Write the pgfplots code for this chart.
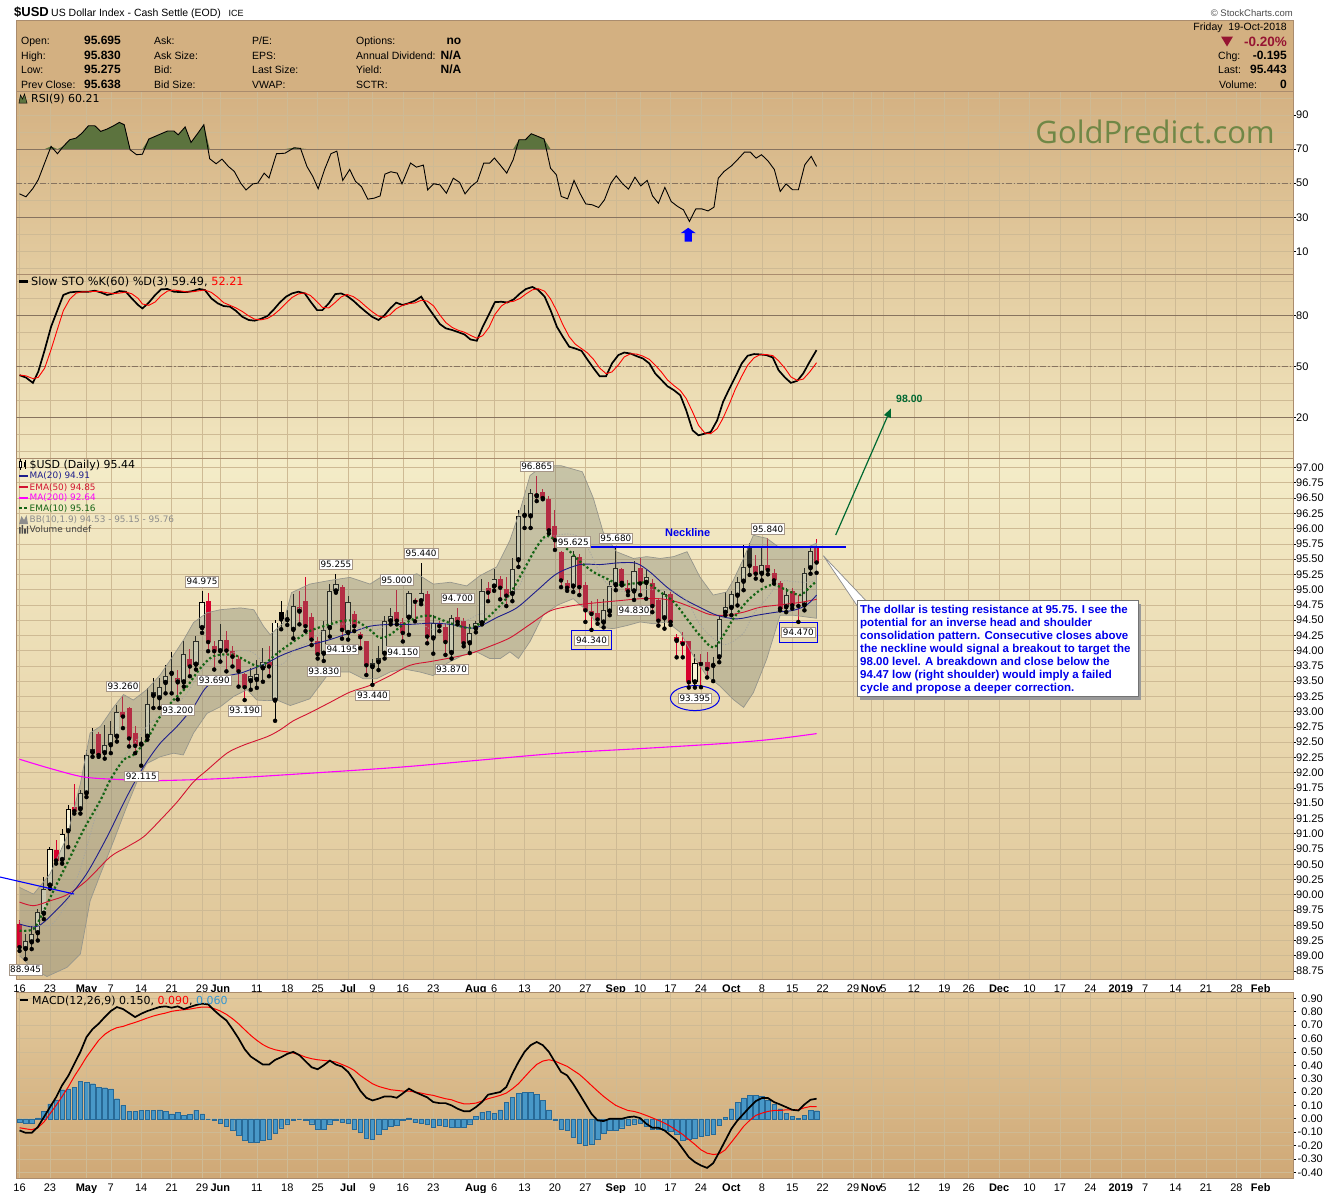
\documentclass[border=0pt]{standalone}
\usepackage{fontspec}
\setmainfont{Liberation Sans}
\newfontfamily\dv{DejaVu Sans}
\newfontfamily\osans{Open Sans}
\usepackage{pgfplots}
\pgfplotsset{compat=1.18}
\usepackage{pgfplotstable}
\usetikzlibrary{arrows.meta,shapes.geometric,fit}
\newcommand\fs[1]{\fontsize{#1}{#1}\selectfont}

\definecolor{hdrbg}{RGB}{211,176,129}
\definecolor{rsitop}{RGB}{212,177,130}
\definecolor{rsibot}{RGB}{227,204,160}
\definecolor{stotop}{RGB}{227,204,160}
\definecolor{stobot}{RGB}{241,230,192}
\definecolor{maintop}{RGB}{244,236,200}
\definecolor{mainmid}{RGB}{249,244,212}
\definecolor{mainbot}{RGB}{222,196,150}
\definecolor{macdtop}{RGB}{226,201,156}
\definecolor{macdbot}{RGB}{207,168,118}
\definecolor{pborder}{RGB}{170,140,110}
\definecolor{gridc}{RGB}{206,186,148}
\definecolor{refline}{RGB}{135,115,95}
\definecolor{rsigreen}{RGB}{92,115,62}
\definecolor{candred}{RGB}{215,0,45}
\definecolor{hollowin}{RGB}{248,243,214}
\definecolor{bandc}{RGB}{120,125,110}
\definecolor{bandedge}{RGB}{150,150,140}
\definecolor{ma20c}{RGB}{30,30,140}
\definecolor{ema50c}{RGB}{210,20,50}
\definecolor{ma200c}{RGB}{255,0,255}
\definecolor{ema10c}{RGB}{20,100,20}
\definecolor{bbmid}{RGB}{165,165,160}
\definecolor{histc}{RGB}{72,152,200}
\definecolor{histe}{RGB}{40,105,150}
\definecolor{maroonc}{RGB}{150,20,50}
\definecolor{gpgreen}{RGB}{112,135,70}
\definecolor{annblue}{RGB}{0,0,235}
\definecolor{arrgreen}{RGB}{0,105,50}
\definecolor{lblgray}{RGB}{165,150,135}
\definecolor{macdblue}{RGB}{50,150,210}

% ---------------- data ----------------
\pgfplotstableread{
px v
33 43.7
45 42
58 46.9
68 52
80 61.8
92 71.6
104 67.3
115 71.6
127 75.5
139 76.5
150 79.4
162 83.7
174 83.7
185 80.4
197 81.8
209 83.7
220 85.7
229 84.3
240 69.6
252 66.7
263 67
275 75.9
287 77.5
298 79
310 80.6
322 80.6
330 78.4
343 83
354 73.9
367 79.4
378 84.3
389 64.3
401 61.4
412 64.1
424 59.8
435 56.9
447 50
457 46
470 49.6
479 50
491 55.9
500 53
514 67.3
522 67.4
530 67.6
547 70.8
559 70.4
571 59.8
582 53.9
592 46.7
604 58
616 67.3
627 68.8
638 51.6
651 58
662 51
673 48
685 40.6
697 41.2
708 42.5
717 55.3
728 56.7
740 55.9
749 49.6
765 61.8
776 59.4
789 60.6
797 46
808 49.6
820 49
832 44.1
845 52.9
857 50.4
867 43.7
878 48
890 51
902 61.8
913 61.8
922 64.7
934 60.2
945 55.9
957 63.7
968 75.5
980 75.5
991 79
1003 77.5
1015 75.9
1027 58.8
1038 54.9
1047 42.2
1059 40.8
1071 51.6
1082 44.1
1093 37.8
1105 37.3
1117 35.7
1128 40.2
1140 50
1150 54.3
1162 49.6
1173 46.5
1185 53.5
1196 48.4
1208 51.6
1218 42.5
1229 38.2
1241 47.5
1253 39.2
1265 36.3
1276 34.3
1287 27.5
1299 34.9
1310 34.9
1322 33.7
1333 35.9
1341 52.9
1352 56.9
1366 60.2
1378 64.1
1390 68.2
1401 68.2
1412 64.7
1422 66.7
1434 63.1
1446 58
1457 45.1
1468 49.6
1480 46.1
1491 46.1
1503 60.8
1515 65.7
1525 59.8
}\rsidata

\pgfplotstableread{
px k d
33 44.9 45.0
45 43.5 44.5
58 40.4 42.9
68 46.9 43.6
80 59.6 49.0
92 73.3 59.9
104 83.1 72.0
115 92 82.8
127 93.5 89.5
139 93.9 93.1
150 93.9 93.8
162 93.9 93.9
174 94.5 94.1
185 93.5 94.0
197 92 93.3
209 92.9 92.8
220 94.3 93.1
232 93.9 93.7
243 90 92.7
255 86.1 90.0
263 84.1 86.7
275 87.5 85.9
287 92 87.9
298 95.3 91.6
310 95.5 94.3
322 93.9 94.9
334 93.7 94.4
346 93.7 93.8
357 94.3 93.9
370 95.5 94.5
380 94.9 94.9
392 90 93.5
404 87.1 90.7
415 85.5 87.5
427 85.1 85.9
438 82.7 84.4
450 79.2 82.3
462 77.3 79.7
473 76.9 77.8
485 78 77.4
497 79.6 78.2
508 83.1 80.2
520 87.5 83.4
532 91 87.2
543 92.9 90.5
555 93.9 92.6
567 92.9 93.2
578 88 91.6
590 83.1 88.0
600 83.1 84.7
612 87.1 84.4
624 92.5 87.6
635 92.9 90.8
646 91.4 92.3
658 88.6 91.0
670 85.1 88.4
681 82.2 85.3
693 79.2 82.2
705 77.3 79.6
716 80 78.8
727 84.1 80.5
738 87.5 83.9
750 86.1 85.9
761 87.1 86.9
773 88.6 87.3
785 91 88.9
796 85.5 88.4
808 80.2 85.6
820 74.9 80.2
831 72.4 75.8
843 71.4 72.9
854 70.2 71.3
866 68.8 70.1
877 65.9 68.3
889 65.1 66.6
900 73.3 68.1
912 80.8 73.1
923 87.8 80.6
935 88 85.5
946 87.6 87.8
958 89.4 88.3
970 92.9 90.0
981 95.5 92.6
993 96.7 95.0
1004 94.9 95.7
1016 91 94.2
1027 83.1 89.7
1039 73.3 82.5
1050 67.5 74.6
1062 61.6 67.5
1073 60.6 63.2
1085 59.2 60.5
1096 54.1 58.0
1108 48.8 54.0
1119 44.3 49.1
1131 44.3 45.8
1142 51.8 46.8
1154 56.7 50.9
1165 58.2 55.6
1177 57.6 57.5
1188 56.1 57.3
1200 54.7 56.1
1212 51.8 54.2
1223 45.9 50.8
1235 42 46.6
1246 38.4 42.1
1258 36.1 38.8
1270 33.1 35.9
1281 24.3 31.2
1293 12.5 23.3
1304 9.6 15.5
1316 10.6 10.9
1327 11.6 10.6
1339 18.4 13.5
1350 29.2 19.7
1362 37.1 28.2
1373 43.9 36.7
1385 51.8 44.3
1396 56.3 50.7
1408 57.3 55.1
1419 57.1 56.9
1431 56.7 57.0
1443 55.3 56.4
1454 47.8 53.3
1466 43.5 48.9
1477 40.4 43.9
1489 41.6 41.8
1500 45.9 42.6
1512 52.7 46.7
1525 59.6 52.2
}\stodata

% candles: hollow black
\pgfplotstableread{
i o h l c
1 89.11 89.35 88.945 89.24
2 89.22 89.49 89.11 89.36
3 89.37 89.77 89.25 89.71
4 89.69 90.29 89.60 90.10
5 90.15 90.78 90.10 90.75
7 90.57 91.07 90.51 91.00
8 91.04 91.47 90.78 91.41
10 91.40 91.71 91.33 91.67
11 91.66 92.37 91.60 92.29
12 92.33 92.73 92.26 92.38
14 92.32 92.78 92.23 92.45
15 92.45 92.84 92.32 92.64
16 92.59 93.11 92.51 93.00
20 92.46 92.59 92.115 92.47
21 92.59 93.39 92.54 93.12
22 93.26 93.55 93.06 93.32
23 93.22 93.55 93.06 93.40
24 93.47 93.76 93.30 93.58
25 93.62 93.98 93.30 93.63
27 93.48 94.15 93.41 93.94
29 93.77 94.24 93.69 94.15
30 94.37 94.975 94.29 94.80
33 93.99 94.44 93.82 94.18
38 93.50 93.71 93.36 93.58
39 93.52 93.85 93.39 93.61
40 93.71 94.04 93.49 93.82
42 93.18 94.50 92.85 94.46
44 94.50 94.66 94.42 94.52
45 94.34 94.93 94.20 94.73
50 93.95 94.48 93.83 94.34
51 94.37 95.09 94.23 94.98
52 94.97 95.255 94.95 95.09
54 94.29 94.90 94.18 94.79
58 93.73 93.87 93.44 93.80
59 93.81 94.07 93.68 93.88
60 93.95 94.57 93.87 94.48
61 94.48 94.70 94.43 94.56
64 94.54 94.98 94.26 94.95
66 94.81 95.44 94.76 94.95
68 94.20 94.59 93.95 94.45
71 93.96 94.59 93.87 94.54
74 94.12 94.43 93.96 94.29
75 94.36 94.48 94.30 94.45
76 94.45 95.17 94.43 94.98
78 95.05 95.34 94.98 95.17
81 94.93 95.51 94.81 95.34
82 95.48 96.31 95.37 96.20
83 96.21 96.39 96.01 96.23
84 96.20 96.64 96.01 96.58
91 95.05 95.625 94.96 95.55
96 94.46 94.85 94.38 94.66
97 94.64 95.14 94.58 95.06
98 95.07 95.68 94.99 95.36
101 94.97 95.47 94.83 95.31
103 95.11 95.32 94.85 95.21
106 94.53 94.97 94.36 94.92
111 93.48 93.94 93.395 93.80
114 93.75 93.89 93.50 93.76
115 93.89 94.58 93.81 94.52
116 94.62 94.96 94.58 94.71
117 94.70 94.97 94.58 94.92
118 94.90 95.21 94.74 95.13
119 95.13 95.73 94.99 95.37
122 95.26 95.68 95.15 95.41
126 94.71 95.03 94.63 94.91
129 94.74 95.35 94.66 95.27
130 95.35 95.70 95.26 95.638
}\hbdata

% hollow red
\pgfplotstableread{
i o h l c
26 93.48 93.69 93.20 93.55
46 94.64 94.98 94.43 94.71
85 96.53 96.865 96.45 96.56
108 94.16 94.27 93.89 94.22
}\hrdata

% filled black
\pgfplotstableread{
i o h l c
43 94.63 94.81 94.35 94.51
120 95.68 95.76 95.24 95.39
}\fbdata

% filled red
\pgfplotstableread{
i o h l c
0 89.52 89.58 89.08 89.14
6 90.74 90.90 90.51 90.56
9 91.43 91.82 91.33 91.37
13 92.63 92.67 92.26 92.29
17 92.99 93.26 92.73 92.92
18 93.06 93.08 92.43 92.56
19 92.65 92.76 92.32 92.44
28 93.87 94.02 93.58 93.74
31 94.81 94.95 93.99 94.14
32 94.07 94.15 93.69 93.99
34 94.18 94.32 93.66 94.00
35 94.00 94.07 93.74 93.90
36 93.86 93.91 93.41 93.66
37 93.61 93.63 93.19 93.40
41 93.82 94.07 93.58 93.74
47 94.81 95.21 94.32 94.40
48 94.55 94.62 94.09 94.18
49 94.16 94.23 93.87 93.94
53 95.04 95.07 94.195 94.34
55 94.60 94.65 94.32 94.40
56 94.27 94.31 94.04 94.22
57 94.15 94.15 93.60 93.76
62 94.64 95.00 94.43 94.49
63 94.47 94.54 94.15 94.29
65 94.83 94.87 94.48 94.80
67 94.92 94.98 94.12 94.23
69 94.45 94.48 94.32 94.40
70 94.38 94.43 93.93 94.14
72 94.55 94.70 94.43 94.47
73 94.48 94.54 94.07 94.12
77 95.02 95.12 94.81 94.95
79 95.17 95.23 94.84 95.03
80 95.01 95.20 94.73 94.90
86 96.60 96.65 96.48 96.50
87 96.49 96.53 95.92 95.97
88 96.05 96.31 95.65 95.81
89 95.62 95.64 95.04 95.15
90 95.10 95.15 94.98 95.03
92 95.54 95.59 94.91 95.04
93 95.07 95.13 94.47 94.66
94 94.65 94.82 94.34 94.60
95 94.62 94.85 94.44 94.51
99 95.33 95.36 95.07 95.11
100 95.03 95.15 94.91 94.97
102 95.36 95.51 94.91 95.10
104 95.10 95.17 94.63 94.73
105 94.83 94.86 94.41 94.49
107 94.92 94.96 94.42 94.47
109 94.15 94.30 93.89 94.11
110 94.15 94.16 93.395 93.48
112 93.82 93.94 93.40 93.78
113 93.82 93.97 93.56 93.70
121 95.39 95.57 95.18 95.26
123 95.41 95.84 95.25 95.32
124 95.27 95.33 95.10 95.15
125 95.10 95.14 94.66 94.69
127 94.98 95.02 94.69 94.74
128 94.75 94.91 94.47 94.73
131 95.695 95.83 95.275 95.443
}\frdata

% Bollinger band outline: upper band left to right, then lower band right to left
\pgfplotstableread{
x y
0 90.12
2.3 90.01
5.0 90.34
7.8 90.95
10.0 91.82
11.6 92.65
13.3 92.76
15.5 93.08
17.1 93.28
18.7 93.19
20.9 93.36
23.1 93.60
24.8 93.85
27.0 94.18
28.6 94.46
30.8 94.62
33.0 94.67
36.3 94.70
38.5 94.67
40.1 94.40
41.2 94.26
43.4 94.46
44.7 94.95
47.7 95.09
51.0 95.15
54.3 95.20
57.6 95.09
59.8 95.23
62.5 95.17
65.3 95.26
68.0 95.09
70.8 95.12
73.5 95.06
75.7 95.23
78.4 95.37
80.6 95.81
82.3 96.31
83.9 96.87
86.1 97.03
89.0 97.03
92.5 96.93
94.3 96.50
95.9 95.95
98.1 95.62
100.9 95.51
103.1 95.54
105.3 95.51
107.5 95.54
109.7 95.62
111.8 95.21
114.0 94.91
116.2 94.96
117.3 95.15
119.0 95.51
120.6 95.89
122.8 95.84
125.0 95.68
127.2 95.68
129.4 95.69
131.0 95.76
131.0 94.53
129.4 94.55
127.2 94.58
125.0 94.58
122.8 93.86
120.6 93.31
119.0 93.07
117.3 93.20
115.1 93.42
112.9 93.59
110.7 93.92
108.6 94.30
106.4 94.47
104.2 94.44
102.0 94.47
99.8 94.41
97.6 94.36
95.4 94.38
93.2 94.66
91.0 94.85
88.5 94.75
86.1 94.59
83.9 94.15
82.0 93.87
80.6 93.98
79.0 93.87
77.3 93.87
75.1 93.98
73.0 93.93
70.2 93.79
68.0 93.59
65.8 93.65
63.1 93.70
60.9 93.65
58.7 93.54
56.5 93.54
54.3 93.65
51.0 93.65
47.7 93.21
44.5 93.10
42.3 93.19
40.7 93.18
39.0 93.19
37.4 93.36
35.2 93.25
33.0 93.08
30.8 92.97
28.6 92.65
26.9 92.29
25.3 92.32
23.1 92.26
20.9 92.15
19.3 91.85
17.6 91.44
15.5 90.89
13.3 90.34
11.6 89.90
10.0 89.03
7.8 88.81
4.5 88.66
2.0 88.80
0 89.00
}\bbpoly

\pgfplotstableread{
x y
0 89.56
5 89.50
7.8 89.88
10 90.43
13.3 91.55
15.5 91.99
17.6 92.30
20.9 92.76
23.1 92.93
27 93.24
30.8 93.80
33 93.88
36.3 94.00
38.5 93.96
40.7 93.76
43.4 93.79
45 94.00
47.7 94.15
51 94.40
54.3 94.43
57.6 94.32
60.9 94.43
63.1 94.45
65.8 94.45
68 94.34
70.8 94.46
73.5 94.50
75.7 94.60
78.4 94.62
80.6 94.90
82.3 95.09
83.9 95.51
86.1 95.81
88.8 95.90
91 95.90
92.7 95.80
94.3 95.50
95.9 95.17
98.1 94.99
100.9 94.97
103.1 95.00
105.3 94.99
107.5 94.97
109.7 94.81
111.8 94.43
114 94.20
116.2 94.10
119 94.29
120.6 94.60
122.8 94.85
125 95.13
127.2 95.13
129.4 95.12
131 95.15
}\bbmiddle

\pgfplotstableread{
x y
0 89.52
2.3 89.47
4.0 89.55
7.8 89.93
11.0 90.34
14.4 90.95
17.6 91.60
20.4 92.10
23.1 92.48
25.9 92.76
28.6 93.08
30.8 93.41
34.1 93.58
36.3 93.63
38.5 93.71
40.7 93.80
42.8 93.91
44.5 93.98
47.7 94.09
51.0 94.18
54.3 94.29
57.6 94.40
60.9 94.43
64.2 94.43
67.5 94.45
70.8 94.43
74.0 94.37
75.7 94.40
78.4 94.54
81.7 94.70
85.0 94.98
88.3 95.26
92.1 95.41
95.4 95.41
98.7 95.44
101.4 95.43
103.6 95.29
106.4 95.04
109.1 94.85
111.8 94.71
114.6 94.58
117.9 94.52
121.2 94.58
124.4 94.63
127.2 94.66
129.4 94.75
131.0 94.91
}\madata

\pgfplotstableread{
x y
0 89.88
2.3 89.82
5.0 89.90
7.8 90.00
11.0 90.23
14.9 90.62
17.6 90.78
20.4 90.95
23.1 91.22
25.9 91.52
28.6 91.85
30.8 92.04
34.1 92.32
36.8 92.45
40.7 92.59
42.8 92.70
45.0 92.85
47.7 92.98
51.0 93.15
54.3 93.32
57.6 93.43
60.9 93.59
64.2 93.76
67.5 93.82
70.8 93.88
74.0 93.95
77.3 94.07
80.6 94.21
83.9 94.43
87.2 94.65
90.0 94.72
92.5 94.76
95.4 94.79
98.7 94.82
102.0 94.85
105.3 94.85
108.0 94.80
110.7 94.70
113.5 94.59
116.2 94.58
119.0 94.63
121.7 94.71
125.0 94.75
128.3 94.79
131.0 94.84
}\emafifty

\pgfplotstableread{
x y
0 92.22
5 92.07
10.5 91.93
16 91.89
21.5 91.87
27 91.88
34.6 91.91
46 91.98
62.5 92.09
75 92.20
88.8 92.32
103 92.40
116 92.48
124 92.55
131 92.64
}\matwohundred

\pgfplotstableread{
x y
0 89.41
2.3 89.44
4.0 89.74
5.6 90.07
7.8 90.51
10.5 91.06
13.3 91.55
14.9 91.88
17.1 92.21
18.7 92.29
20.9 92.54
23.1 92.92
25.3 93.19
27.5 93.41
29.7 93.71
31.9 93.91
35.2 93.93
37.4 93.82
39.6 93.74
41.8 93.91
43.9 94.07
47.7 94.32
51.0 94.43
53.2 94.49
55.4 94.48
57.6 94.34
59.2 94.21
60.9 94.26
63.1 94.43
65.3 94.54
67.5 94.57
70.8 94.45
74.0 94.37
76.2 94.48
78.4 94.68
80.6 94.93
82.8 95.31
85.0 95.70
86.6 95.88
88.5 95.78
90.5 95.62
92.1 95.46
94.3 95.29
96.5 95.18
98.7 95.08
100.9 95.10
103.1 95.11
105.3 94.96
107.5 94.80
109.7 94.52
111.8 94.25
114.0 94.05
115.7 94.25
117.3 94.52
119.5 94.80
121.7 94.99
123.9 95.08
126.1 94.99
128.3 94.91
129.9 95.04
131.0 95.14
}\ematen

\pgfplotstableread{
i m s h
0 -0.087 -0.067 -0.025
1 -0.105 -0.075 -0.032
2 -0.105 -0.082 -0.030
3 -0.062 -0.067 0.007
4 0.012 -0.025 0.057
5 0.087 0.037 0.112
6 0.160 0.100 0.142
7 0.250 0.167 0.217
8 0.320 0.237 0.224
9 0.410 0.317 0.237
10 0.500 0.387 0.282
11 0.610 0.461 0.274
12 0.670 0.524 0.262
13 0.710 0.586 0.237
14 0.760 0.631 0.232
15 0.805 0.661 0.224
16 0.835 0.681 0.150
17 0.820 0.690 0.100
18 0.790 0.706 0.057
19 0.760 0.720 0.057
20 0.785 0.736 0.062
21 0.805 0.753 0.062
22 0.820 0.768 0.062
23 0.835 0.780 0.067
24 0.840 0.790 0.057
25 0.830 0.803 0.037
26 0.840 0.810 0.050
27 0.820 0.815 0.025
28 0.835 0.820 0.032
29 0.850 0.828 0.062
30 0.860 0.835 0.037
31 0.855 0.835 0.000
32 0.810 0.823 -0.012
33 0.770 0.805 -0.032
34 0.735 0.780 -0.057
35 0.670 0.748 -0.087
36 0.600 0.710 -0.125
37 0.520 0.666 -0.157
38 0.465 0.623 -0.175
39 0.435 0.586 -0.175
40 0.405 0.554 -0.162
41 0.405 0.531 -0.150
42 0.440 0.516 -0.107
43 0.460 0.506 -0.067
44 0.485 0.500 -0.037
45 0.500 0.491 -0.012
46 0.475 0.479 0.000
47 0.430 0.461 -0.007
48 0.385 0.449 -0.037
49 0.370 0.441 -0.075
50 0.400 0.436 -0.075
51 0.435 0.431 -0.037
52 0.405 0.424 -0.007
53 0.390 0.406 -0.025
54 0.350 0.387 -0.032
55 0.285 0.362 -0.075
56 0.210 0.324 -0.100
57 0.157 0.292 -0.142
58 0.137 0.262 -0.150
59 0.150 0.242 -0.112
60 0.167 0.229 -0.075
61 0.167 0.217 -0.057
62 0.157 0.212 -0.050
63 0.190 0.207 -0.012
64 0.225 0.207 0.007
65 0.200 0.200 -0.025
66 0.180 0.192 -0.032
67 0.160 0.182 -0.042
68 0.125 0.175 -0.062
69 0.117 0.162 -0.050
70 0.117 0.150 -0.057
71 0.100 0.142 -0.062
72 0.075 0.125 -0.062
73 0.057 0.112 -0.062
74 0.057 0.112 -0.037
75 0.087 0.117 0.017
76 0.125 0.132 0.050
77 0.180 0.150 0.057
78 0.190 0.162 0.042
79 0.200 0.175 0.067
80 0.237 0.192 0.125
81 0.337 0.224 0.162
82 0.424 0.262 0.192
83 0.500 0.312 0.200
84 0.550 0.362 0.200
85 0.574 0.406 0.182
86 0.550 0.431 0.137
87 0.500 0.441 0.067
88 0.424 0.431 -0.012
89 0.350 0.411 -0.075
90 0.324 0.392 -0.082
91 0.260 0.362 -0.137
92 0.187 0.332 -0.182
93 0.112 0.292 -0.200
94 0.037 0.249 -0.192
95 -0.012 0.207 -0.150
96 -0.017 0.167 -0.107
97 0.000 0.132 -0.087
98 0.000 0.100 -0.082
99 0.000 0.080 -0.067
100 0.012 0.062 -0.050
101 0.017 0.055 -0.037
102 0.005 0.042 -0.032
103 -0.037 0.025 -0.057
104 -0.067 0.007 -0.075
105 -0.067 -0.012 -0.075
106 -0.087 -0.032 -0.082
107 -0.125 -0.057 -0.092
108 -0.162 -0.087 -0.112
109 -0.224 -0.117 -0.157
110 -0.287 -0.155 -0.150
111 -0.324 -0.192 -0.142
112 -0.349 -0.232 -0.132
113 -0.367 -0.257 -0.125
114 -0.332 -0.267 -0.112
115 -0.249 -0.262 -0.050
116 -0.162 -0.232 0.012
117 -0.075 -0.175 0.075
118 -0.012 -0.117 0.125
119 0.037 -0.057 0.157
120 0.087 -0.012 0.175
121 0.132 0.025 0.175
122 0.155 0.042 0.167
123 0.155 0.055 0.142
124 0.125 0.062 0.107
125 0.107 0.062 0.075
126 0.087 0.067 0.042
127 0.067 0.067 0.017
128 0.062 0.067 0.005
129 0.107 0.082 0.025
130 0.142 0.092 0.062
131 0.150 0.090 0.060
}\macddata

% ---------------- styles ----------------
\pgfplotsset{
  panel/.style={
    scale only axis, width=1276.5pt, xmin=-0.5, xmax=209.3,
    axis line style={draw=pborder, line width=0.8pt},
    xtick={0,5,11,15,20,25,30,33,39,44,49,54,58,63,68,75,78,83,88,93,98,102,107,112,117,122,127,132,137,140,142,147,152,156,161,166,171,176,181,185,190,195,200,204},
    xmajorgrids=true, ymajorgrids=true,
    major grid style={draw=gridc, line width=0.6pt},
    minor grid style={draw=gridc, line width=0.6pt},
    xtick style={draw=none},
    ytick pos=right, yticklabel pos=right,
    ytick style={draw=black, line width=0.6pt},
    tick align=outside, major tick length=3pt, minor tick length=0pt,
    yticklabel style={font=\fs{11}, anchor=west, inner sep=0pt},
    /pgf/number format/assume math mode=true,
  },
  datelabels/.style={
    xticklabels={16,23,\textbf{May},7,14,21,29,\textbf{Jun},11,18,25,\textbf{Jul},9,16,23,\textbf{Aug},6,13,20,27,\textbf{Sep},10,17,24,\textbf{Oct},8,15,22,29,\textbf{Nov},5,12,19,26,\textbf{Dec},10,17,24,\textbf{2019},7,14,21,28,\textbf{Feb}},
    xticklabel style={font=\fs{11}, anchor=base, inner sep=0pt, yshift=-10pt},
  },
}
\tikzset{plab/.style={fill=white, draw=lblgray, line width=0.6pt, inner xsep=1.3pt, inner ysep=2pt, font=\dv\fs{8.8}, text height=6.5pt, text depth=0pt}}

\newcommand{\filledcandles}[2]{%
  \addplot[only marks, mark=none, forget plot, error bars/.cd, y dir=plus, y explicit, error mark=none, error bar style={draw=#2, line width=1pt}] table[x=i, y=l, y error plus expr={\thisrow{h}-\thisrow{l}}] #1;
  \addplot[only marks, mark=none, forget plot, error bars/.cd, y dir=plus, y explicit, error mark=none, error bar style={draw=#2, line width=5pt}] table[x=i, y=c, y error plus expr={max(\thisrow{o}-\thisrow{c},0.018)}] #1;
}
% hollow body: outline-coloured bar, then a narrower and shorter inner bar in the panel colour
\newcommand{\hollowcandles}[2]{%
  \addplot[only marks, mark=none, forget plot, error bars/.cd, y dir=plus, y explicit, error mark=none, error bar style={draw=#2, line width=1pt}] table[x=i, y=l, y error plus expr={\thisrow{h}-\thisrow{l}}] #1;
  \addplot[only marks, mark=none, forget plot, error bars/.cd, y dir=plus, y explicit, error mark=none, error bar style={draw=#2, line width=5.2pt}] table[x=i, y=o, y error plus expr={max(\thisrow{c}-\thisrow{o},0.018)}] #1;
  \addplot[only marks, mark=none, forget plot, error bars/.cd, y dir=plus, y explicit, error mark=none, error bar style={draw=hollowin, line width=3.3pt}] table[x=i, y expr={\thisrow{o}+0.0155}, y error plus expr={max(\thisrow{c}-\thisrow{o}-0.031,0)}] #1;
}

\begin{document}
\begin{tikzpicture}
\useasboundingbox (0pt,0pt) rectangle (1340pt,-1192pt);
\fill[white] (0pt,0pt) rectangle (1340pt,-1192pt);

% ---------------- header ----------------
\begin{scope}[x=1pt,y=-1pt]
\fill[hdrbg] (16.5,20) rectangle (1293,92);
\draw[pborder, line width=0.8pt] (16.5,20) rectangle (1293,92);
\node[anchor=base west, inner sep=0pt, font=\fs{13}\bfseries] at (14,16.5) {\$USD};
\node[anchor=base west, inner sep=0pt, font=\fs{10.5}] at (51,16.5) {US Dollar Index - Cash Settle (EOD)};
\node[anchor=base west, inner sep=0pt, font=\fs{9}] at (228.5,16.5) {ICE};
\node[anchor=base east, inner sep=0pt, font=\fs{9.5}, text=black!70] at (1293,16) {© StockCharts.com};
\foreach \t/\yy in {{Open:}/44.5, {High:}/59, {Low:}/73.5, {Prev Close:}/88}{\node[anchor=base west, inner sep=0pt, font=\fs{10.5}] at (21,\yy) {\t};}
\foreach \t/\yy in {95.695/44.5, 95.830/59, 95.275/73.5, 95.638/88}{\node[anchor=base east, inner sep=0pt, font=\fs{12}\bfseries] at (121,\yy) {\t};}
\foreach \t/\yy in {{Ask:}/44.5, {Ask Size:}/59, {Bid:}/73.5, {Bid Size:}/88}{\node[anchor=base west, inner sep=0pt, font=\fs{10.5}] at (154,\yy) {\t};}
\node[anchor=base west, inner sep=0pt, font=\fs{10.5}] at (252,44.5) {P/E:};
\node[anchor=base west, inner sep=0pt, font=\fs{10.5}] at (252,59) {EPS:};
\node[anchor=base west, inner sep=0pt, font=\fs{10.5}] at (252,73.5) {Last Size:};
\node[anchor=base west, inner sep=0pt, font=\fs{10.5}] at (252,88) {VWAP:};
\foreach \t/\yy in {{Options:}/44.5, {Annual Dividend:}/59, {Yield:}/73.5, {SCTR:}/88}{\node[anchor=base west, inner sep=0pt, font=\fs{10.5}] at (356,\yy) {\t};}
\node[anchor=base east, inner sep=0pt, font=\fs{12}\bfseries] at (461.5,44.5) {no};
\node[anchor=base east, inner sep=0pt, font=\fs{12}\bfseries] at (461.5,59) {N/A};
\node[anchor=base east, inner sep=0pt, font=\fs{12}\bfseries] at (461.5,73.5) {N/A};
\node[anchor=base east, inner sep=0pt, font=\fs{10.5}] at (1287,30) {Friday\ \ 19-Oct-2018};
\fill[maroonc] (1221,36.5) -- (1233,36.5) -- (1227,46.5) -- cycle;
\node[anchor=base east, inner sep=0pt, font=\fs{13.5}\bfseries, text=maroonc] at (1287,46) {-0.20\%};
\node[anchor=base west, inner sep=0pt, font=\fs{10.5}] at (1218,59) {Chg:};
\node[anchor=base east, inner sep=0pt, font=\fs{12}\bfseries] at (1287,59) {-0.195};
\node[anchor=base west, inner sep=0pt, font=\fs{10.5}] at (1218,73.5) {Last:};
\node[anchor=base east, inner sep=0pt, font=\fs{12}\bfseries] at (1287,73.5) {95.443};
\node[anchor=base west, inner sep=0pt, font=\fs{10.5}] at (1219,88) {Volume:};
\node[anchor=base east, inner sep=0pt, font=\fs{12}\bfseries] at (1287,88) {0};
\end{scope}

% ---------------- RSI ----------------
\begin{axis}[panel, at={(16.5pt,-91.7pt)}, anchor=north west, height=182.3pt,
  ymin=-3.35, ymax=103.7, ytick={10,30,50,70,90}, minor ytick={0,20,40,60,80,100}, yminorgrids=true,
  xticklabels={}, axis background/.style={shade, top color=rsitop, bottom color=rsibot}]
  \addplot[draw=none, stack plots=y, forget plot] table[x expr={(\thisrow{px}-33)/11.39}, y expr={70}] \rsidata;
  \addplot[fill=rsigreen, draw=none, stack plots=y, forget plot] table[x expr={(\thisrow{px}-33)/11.39}, y expr={max(\thisrow{v},70)-70}] \rsidata \closedcycle;
  \addplot[refline, line width=0.9pt, forget plot] coordinates {(-0.5,70) (209.3,70)};
  \addplot[refline, line width=0.9pt, forget plot] coordinates {(-0.5,30) (209.3,30)};
  \addplot[refline, line width=0.8pt, dash pattern=on 6pt off 2pt on 1.5pt off 2pt, forget plot] coordinates {(-0.5,50) (209.3,50)};
  \addplot[black, line width=0.9pt] table[x expr={(\thisrow{px}-33)/11.39}, y=v] \rsidata;
  \addplot[fill=blue, draw=none] coordinates {(109.9,23.8) (111.15,20.6) (110.5,20.6) (110.5,15.7) (109.3,15.7) (109.3,20.6) (108.65,20.6) (109.9,23.8)};
\end{axis}

% ---------------- Slow STO ----------------
\begin{axis}[panel, at={(16.5pt,-274pt)}, anchor=north west, height=184.3pt,
  ymin=-3.9, ymax=104.3, ytick={20,50,80}, minor ytick={0,10,30,40,60,70,90,100}, yminorgrids=true,
  xticklabels={}, axis background/.style={shade, top color=stotop, bottom color=stobot}]
  \addplot[refline, line width=0.9pt, forget plot] coordinates {(-0.5,80) (209.3,80)};
  \addplot[refline, line width=0.9pt, forget plot] coordinates {(-0.5,20) (209.3,20)};
  \addplot[refline, line width=0.8pt, dash pattern=on 6pt off 2pt on 1.5pt off 2pt, forget plot] coordinates {(-0.5,50) (209.3,50)};
  \addplot[black, line width=1.7pt] table[x expr={(\thisrow{px}-33)/11.39}, y=k] \stodata;
  \addplot[red, line width=0.9pt] table[x expr={(\thisrow{px}-33)/11.39}, y=d] \stodata;
\end{axis}

% ---------------- Price ----------------
\begin{axis}[panel, datelabels, at={(16.5pt,-458.3pt)}, anchor=north west, height=521pt,
  ymin=88.614, ymax=97.151, clip=false,
  ytick={88.75,89,89.25,89.5,89.75,90,90.25,90.5,90.75,91,91.25,91.5,91.75,92,92.25,92.5,92.75,93,93.25,93.5,93.75,94,94.25,94.5,94.75,95,95.25,95.5,95.75,96,96.25,96.5,96.75,97},
  yticklabel={\pgfmathprintnumber[fixed,fixed zerofill,precision=2,assume math mode=true]{\tick}},
  axis background/.style={shade, top color=maintop, middle color=mainmid, bottom color=mainbot}]
  \filledcandles{\frdata}{candred}
  \filledcandles{\fbdata}{black}
  \hollowcandles{\hbdata}{black}
  \hollowcandles{\hrdata}{candred}
  \addplot[fill=bandc, fill opacity=0.36, draw=bandedge, line width=0.7pt, forget plot] table[x=x, y=y] \bbpoly;
  \addplot[ma200c, line width=1.1pt, smooth] table[x=x, y=y] \matwohundred;
  \addplot[ema50c, line width=0.9pt, smooth] table[x=x, y=y] \emafifty;
  \addplot[ma20c, line width=0.9pt, smooth] table[x=x, y=y] \madata;
  \addplot[bbmid, line width=0.8pt, dash pattern=on 1.2pt off 1.6pt, smooth] table[x=x, y=y] \bbmiddle;
  \addplot[ema10c, line width=2.2pt, dash pattern=on 2.2pt off 2.4pt, smooth] table[x=x, y=y] \ematen;
  \addplot[annblue, line width=2.5pt] coordinates {(89.1,95.70) (135.9,95.70)};
  \foreach \xx/\pp in {30/94.975, 17/93.260, 52/95.255, 62/95.000, 66/95.440, 72/94.700, 85/96.865, 91/95.625, 98/95.680, 123/95.840}{
    \edef\tmp{\noexpand\node[plab, anchor=south, yshift=4pt] at (axis cs:\xx,\pp) {\pp};}\tmp
  }
  \foreach \xx/\pp in {1/88.945, 20/92.115, 26/93.200, 32/93.690, 37/93.190, 50/93.830, 53/94.195, 63/94.150, 58/93.440, 71/93.870, 101/94.830}{
    \edef\tmp{\noexpand\node[plab, anchor=north, yshift=-5pt] at (axis cs:\xx,\pp) {\pp};}\tmp
  }
  \node[plab, anchor=north, yshift=-5pt] (lA) at (axis cs:94,94.34) {94.340};
  \node[draw=annblue, line width=1pt, fit=(lA), inner xsep=3pt, inner ysep=4pt] {};
  \node[plab, anchor=north, yshift=-5pt] (lB) at (axis cs:128,94.47) {94.470};
  \node[draw=annblue, line width=1pt, fit=(lB), inner xsep=2pt, inner ysep=4pt] {};
  \node[plab, anchor=north, yshift=-5pt] (lC) at (axis cs:111,93.395) {93.395};
  \node[draw=annblue, line width=1pt, ellipse, minimum width=49pt, minimum height=25pt] at (lC.center) {};
\end{axis}

% ---------------- MACD ----------------
\begin{axis}[panel, datelabels, at={(16.5pt,-992.7pt)}, anchor=north west, height=185.6pt,
  ymin=-0.445, ymax=0.942,
  ytick={-0.4,-0.3,-0.2,-0.1,0,0.1,0.2,0.3,0.4,0.5,0.6,0.7,0.8,0.9},
  yticklabel={\pgfmathprintnumber[fixed,fixed zerofill,precision=2,assume math mode=true]{\tick}},
  yticklabel style={anchor=east, xshift=27pt},
  axis background/.style={shade, top color=macdtop, bottom color=macdbot}]
  \addplot[ybar, bar width=4.5pt, fill=histc, draw=histe, line width=0.4pt] table[x=i, y=h] \macddata;
  \addplot[red, line width=1pt] table[x=i, y=s] \macddata;
  \addplot[black, line width=1.7pt] table[x=i, y=m] \macddata;
\end{axis}

% ---------------- annotations & legends ----------------
\begin{scope}[x=1pt,y=-1pt]
\filldraw[fill=rsigreen, draw=black, line width=0.5pt] (19,103) -- (20.5,95) -- (22.5,99) -- (24.5,94) -- (27,103) -- cycle;
\node[anchor=base west, inner sep=0pt, font=\dv\fs{11}] at (31,102) {RSI(9) 60.21};
\node[anchor=east, inner sep=0pt, font=\osans\fs{31}, text=gpgreen] at (1275,132) {GoldPredict.com};
\draw[black, line width=2.5pt] (19,281.5) -- (28,281.5);
\node[anchor=base west, inner sep=0pt, font=\dv\fs{11.3}] at (31,285.6) {Slow STO \%K(60) \%D(3) 59.49, \textcolor{red}{52.21}};
\draw[black, line width=0.6pt] (20.5,459) -- (20.5,470) (25,460) -- (25,469);
\filldraw[fill=white, draw=black, line width=0.6pt] (19.5,461.5) rectangle (21.5,467);
\fill[black] (24,462) rectangle (26,466.5);
\node[anchor=base west, inner sep=0pt, font=\dv\fs{11}] at (29.5,468.5) {\$USD (Daily) 95.44};
\draw[ma20c, line width=2pt] (19,475.6) -- (28,475.6);
\node[anchor=base west, inner sep=0pt, font=\dv\fs{8.9}, text=ma20c] at (29.5,478.9) {MA(20) 94.91};
\draw[ema50c, line width=2pt] (19,486.8) -- (28,486.8);
\node[anchor=base west, inner sep=0pt, font=\dv\fs{8.9}, text=ema50c] at (29.5,490.1) {EMA(50) 94.85};
\draw[ma200c, line width=2pt] (19,497.6) -- (28,497.6);
\node[anchor=base west, inner sep=0pt, font=\dv\fs{8.9}, text=ma200c] at (29.5,500.9) {MA(200) 92.64};
\draw[ema10c, line width=2pt, dash pattern=on 3pt off 2pt] (19,508.4) -- (28,508.4);
\node[anchor=base west, inner sep=0pt, font=\dv\fs{8.9}, text=ema10c] at (29.5,511.7) {EMA(10) 95.16};
\fill[black!45] (19,524) -- (21.5,516) -- (24,520) -- (26.5,515) -- (28,524) -- cycle;
\node[anchor=base west, inner sep=0pt, font=\dv\fs{8.9}, text=black!45] at (29.5,522.5) {BB(10,1.9) 94.53 - 95.15 - 95.76};
\fill[black!70] (19,533.5) rectangle (20.6,527) (21.6,533.5) rectangle (23.2,525) (24.2,533.5) rectangle (25.8,528.5) (26.8,533.5) rectangle (28.2,526);
\node[anchor=base west, inner sep=0pt, font=\dv\fs{8.9}, text=black!75] at (29.5,532.6) {Volume undef};
\draw[black, line width=2.5pt] (19.5,1000) -- (28,1000);
\node[anchor=base west, inner sep=0pt, font=\dv\fs{11}] at (32,1004) {MACD(12,26,9) 0.150, \textcolor{red}{0.090}, \textcolor{macdblue}{0.060}};
\draw[blue, line width=1.1pt] (0,877) -- (74,894);
\node[inner sep=0pt, font=\fs{11}\bfseries, text=annblue] at (687.7,532.3) {Neckline};
\draw[arrgreen, line width=1.2pt, -{Triangle[length=9pt, width=7pt]}] (835.7,535) -- (891,408.3);
\node[anchor=base west, inner sep=0pt, font=\fs{10.5}\bfseries, text=arrgreen] at (896,402) {98.00};
\filldraw[fill=white, draw=black!45, line width=0.7pt] (823.3,555.7) -- (866,600.7) -- (857.3,606) -- cycle;
\fill[black!40] (860.3,603.7) rectangle (1141.3,699.7);
\filldraw[fill=white, draw=black!55, line width=0.8pt] (857.3,600.7) rectangle (1138.3,696.7);
\node[anchor=base west, inner sep=0pt, font=\fs{11.5}\bfseries, text=annblue] at (860,613.5) {The dollar is testing resistance at 95.75. I see the};
\node[anchor=base west, inner sep=0pt, font=\fs{11.5}\bfseries, text=annblue] at (860,626.5) {potential for an inverse head and shoulder};
\node[anchor=base west, inner sep=0pt, font=\fs{11.5}\bfseries, text=annblue] at (860,639.5) {consolidation pattern. Consecutive closes above};
\node[anchor=base west, inner sep=0pt, font=\fs{11.5}\bfseries, text=annblue] at (860,652.5) {the neckline would signal a breakout to target the};
\node[anchor=base west, inner sep=0pt, font=\fs{11.5}\bfseries, text=annblue] at (860,665.5) {98.00 level. A breakdown and close below the};
\node[anchor=base west, inner sep=0pt, font=\fs{11.5}\bfseries, text=annblue] at (860,678.5) {94.47 low (right shoulder) would imply a failed};
\node[anchor=base west, inner sep=0pt, font=\fs{11.5}\bfseries, text=annblue] at (860,691.5) {cycle and propose a deeper correction.};
\end{scope}
\end{tikzpicture}
\end{document}
